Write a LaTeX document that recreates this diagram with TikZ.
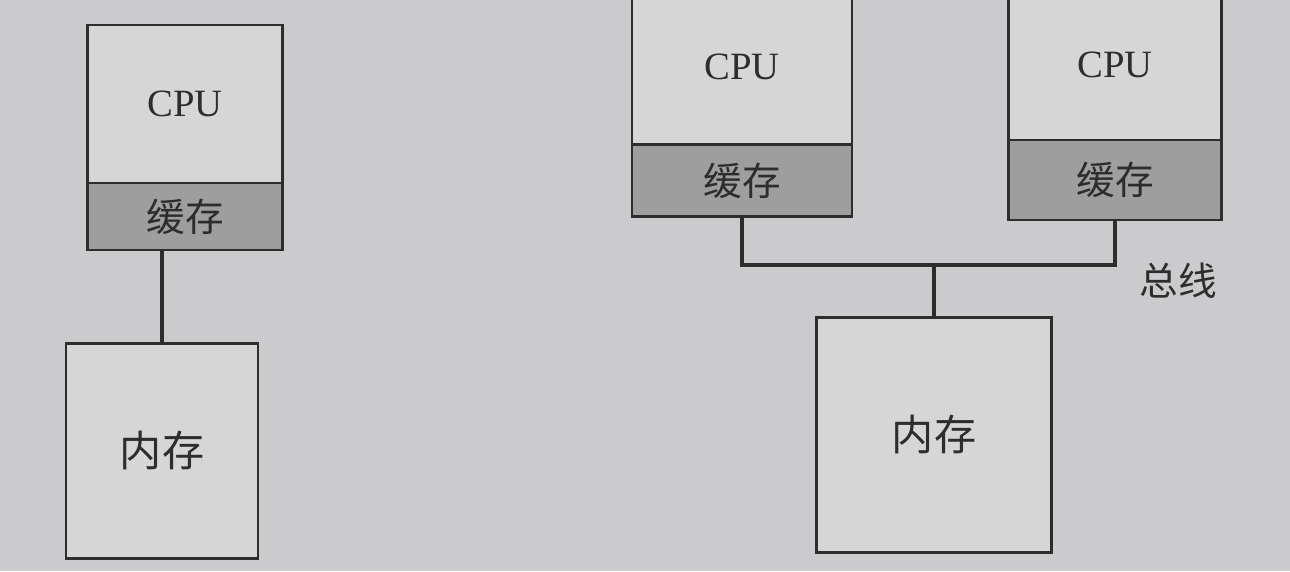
\documentclass[tikz,border=0pt]{standalone}
\usepackage{fontspec}
\setmainfont{Liberation Serif}
\newfontfamily\cjk{Noto Sans CJK SC}
\usetikzlibrary{positioning}
\newcommand{\pu}{0.02cm}
\definecolor{paper}{RGB}{203,203,205}
\definecolor{boxfill}{RGB}{214,214,215}
\definecolor{cachefill}{RGB}{158,158,158}
\definecolor{ink}{RGB}{45,45,45}
\begin{document}
\begin{tikzpicture}[x=\pu, y=-\pu,
  cpubox/.style={draw=ink, line width=1.6pt, outer sep=0pt, fill=boxfill, text=ink, font=\fontsize{22}{26}\selectfont},
  cachebox/.style={draw=ink, line width=1.6pt, outer sep=0pt, fill=cachefill, text=ink, font=\cjk\fontsize{22}{26}\selectfont},
  membox/.style={draw=ink, line width=1.6pt, outer sep=0pt, fill=boxfill, text=ink, font=\cjk\fontsize{24}{28}\selectfont},
  wire/.style={draw=ink, line width=2.8pt}]

  % Background
  \fill[paper] (0,0) rectangle (1290,571);
  \useasboundingbox (0,0) rectangle (1290,571);

  % Single CPU
  \node[cpubox, minimum width={195*\pu}, minimum height={158*\pu}] (cpuL) at (185,104) {CPU};
  \node[cachebox, minimum width={195*\pu}, minimum height={67*\pu}, below=0pt of cpuL] (cacheL) {缓存};
  \node[membox, minimum width={192*\pu}, minimum height={215*\pu}] (memL) at (162,451) {内存};
  \draw[wire] (memL.north) -- (memL.north |- cacheL.south);

  % Two CPUs on a bus
  \node[cpubox, minimum width={220*\pu}, minimum height={155*\pu}] (cpuA) at (742,67) {CPU};
  \node[cachebox, minimum width={220*\pu}, minimum height={72*\pu}, below=0pt of cpuA] (cacheA) {缓存};
  \node[cpubox, minimum width={213*\pu}, minimum height={150*\pu}] (cpuB) at (1115,65) {CPU};
  \node[cachebox, minimum width={213*\pu}, minimum height={80*\pu}, below=0pt of cpuB] (cacheB) {缓存};
  \node[membox, minimum width={235*\pu}, minimum height={235*\pu}] (memR) at (934,435) {内存};

  % Bus
  \coordinate (busMid) at (memR.north |- 0,265);
  \draw[wire] (cacheA.south) |- (busMid) -| (cacheB.south);
  \draw[wire] (busMid) -- (memR.north);
  \node[text=ink, font=\cjk\fontsize{22}{26}\selectfont] (busLabel) at (1178,281) {总线};

\end{tikzpicture}
\end{document}
